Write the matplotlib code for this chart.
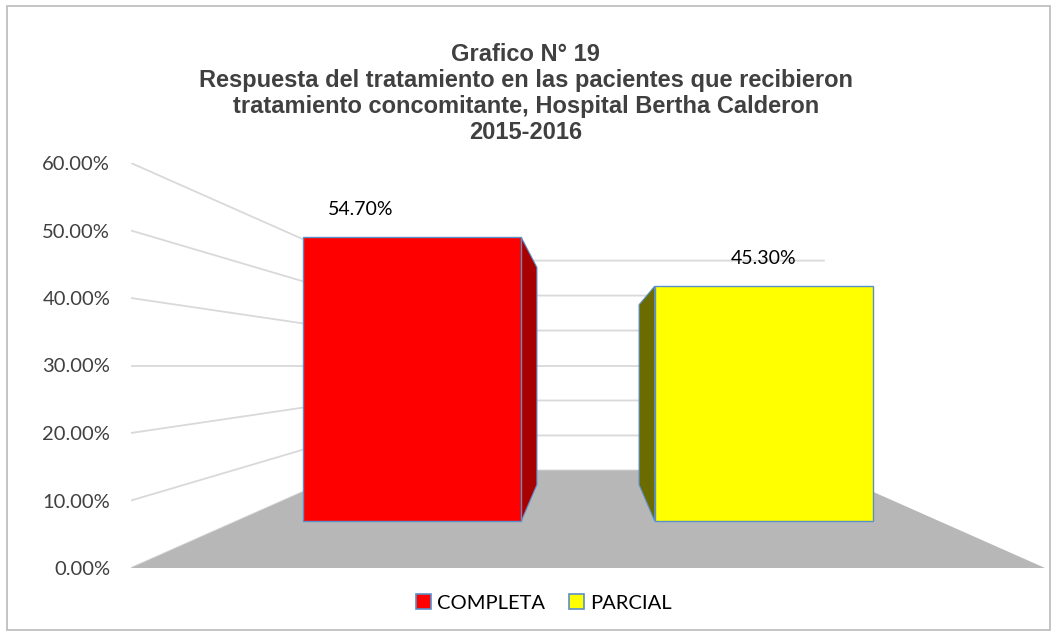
import matplotlib
matplotlib.use('Agg')
import matplotlib.pyplot as plt
from matplotlib.patches import Polygon, Rectangle, Patch
from matplotlib.ticker import PercentFormatter

# data
categories = ['COMPLETA', 'PARCIAL']
values = [0.547, 0.453]
value_labels = ['54.70%', '45.30%']
yticks = [0.0, 0.1, 0.2, 0.3, 0.4, 0.5, 0.6]

title = ('Grafico N° 19\n'
         'Respuesta del tratamiento en las pacientes que recibieron\n'
         'tratamiento concomitante, Hospital Bertha Calderon\n'
         '2015-2016')

# styles
front_colors = ['#ff0000', '#ffff00']
side_colors = ['#a80000', '#6b6b00']
edge_color = '#5b8fc9'
grid_color = '#d9d9d9'
floor_color = '#b7b7b7'
text_color = '#404040'
label_dx = [-37, 0]  # points, Excel puts the first label a bit to the left

# fake 3D perspective, all in data units of the front plane
x_min, x_max = -0.5, 1.5
y_min, y_max = 0.0, 0.6
vx, vy = 0.5, 0.30          # vanishing point
bar_width = 0.62
z_front, z_back = 0.30, 0.70
z_wall = 0.93


def proj(x, y, z):
    s = 1.0 / (1.0 + z)
    return (vx + (x - vx) * s, vy + (y - vy) * s)


plt.rcParams['font.family'] = ['Lato', 'DejaVu Sans']

fig = plt.figure(figsize=(10.58, 6.35), dpi=100)
ax = fig.add_axes([131 / 1058, 67 / 635, 914 / 1058, 405 / 635])
ax.set_xlim(x_min, x_max)
ax.set_ylim(y_min, y_max)
for sp in ax.spines.values():
    sp.set_visible(False)
ax.set_xticks([])
ax.set_yticks(yticks)
ax.yaxis.set_major_formatter(PercentFormatter(1.0, decimals=2))
ax.tick_params(axis='y', length=0, pad=15, labelsize=14.5, labelcolor=text_color)

# gridlines: left side wall + back wall
for t in yticks:
    p0 = proj(x_min, t, 0)
    p1 = proj(x_min, t, z_wall)
    p2 = proj(x_max, t, z_wall)
    ax.plot([p0[0], p1[0], p2[0]], [p0[1], p1[1], p2[1]],
            color=grid_color, lw=1.3, zorder=1, solid_capstyle='butt')

# floor
floor = [proj(x_min, 0, 0), proj(x_max, 0, 0),
         proj(x_max, 0, z_wall), proj(x_min, 0, z_wall)]
ax.add_patch(Polygon(floor, closed=True, fc=floor_color, ec='none', zorder=2))

# bars
for i, v in enumerate(values):
    x0, x1 = i - bar_width / 2, i + bar_width / 2
    side_x = None
    if x1 < vx:
        side_x = x1
    elif x0 > vx:
        side_x = x0
    if side_x is not None:
        side = [proj(side_x, 0, z_front), proj(side_x, v, z_front),
                proj(side_x, v, z_back), proj(side_x, 0, z_back)]
        ax.add_patch(Polygon(side, closed=True, fc=side_colors[i],
                             ec=edge_color, lw=0.8, zorder=3))
    front = [proj(x0, 0, z_front), proj(x1, 0, z_front),
             proj(x1, v, z_front), proj(x0, v, z_front)]
    ax.add_patch(Polygon(front, closed=True, fc=front_colors[i],
                         ec=edge_color, lw=1.0, zorder=4))
    top = proj(i, v, z_front)
    ax.annotate(value_labels[i], top, xytext=(label_dx[i], 20),
                textcoords='offset points', ha='center', va='center',
                fontsize=14, color='black', zorder=5)

# title
fig.text(0.497, 1 - 43 / 635, title, ha='center', va='top',
         fontsize=17, fontweight='bold', color=text_color,
         family='Liberation Sans', linespacing=1.17)

# legend
handles = [Patch(fc=c, ec=edge_color, lw=1.2) for c in front_colors]
fig.legend(handles, categories, loc='center', bbox_to_anchor=(544 / 1058, 1 - 603 / 635),
           ncol=2, frameon=False, fontsize=14.5, handlelength=0.75, handleheight=0.75,
           handletextpad=0.3, columnspacing=1.2)

# outer border
fig.patches.append(Rectangle((7 / 1058, 5 / 635), 1043 / 1058, 624 / 635,
                             transform=fig.transFigure, fill=False,
                             ec='#bfbfbf', lw=1.3))

fig.savefig('out.png', dpi=100)
